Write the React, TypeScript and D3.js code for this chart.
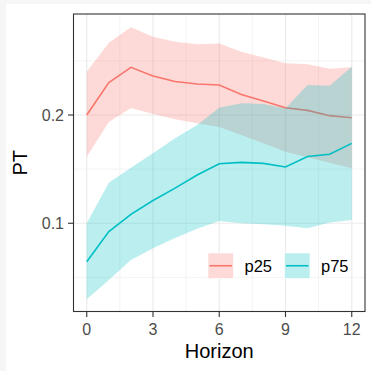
import React from "react";
import * as d3 from "d3";

const horizon = [0, 1, 2, 3, 4, 5, 6, 7, 8, 9, 10, 11, 12];
const p25Mid = [0.2, 0.23, 0.244, 0.236, 0.231, 0.2286, 0.2277, 0.219, 0.213, 0.2067, 0.2043, 0.1994, 0.1975];
const p25Lo = [0.1615, 0.1935, 0.2065, 0.201, 0.196, 0.1925, 0.189, 0.1815, 0.1738, 0.1661, 0.161, 0.156, 0.1508];
const p25Hi = [0.24, 0.2668, 0.281, 0.2723, 0.2677, 0.2653, 0.266, 0.2585, 0.2532, 0.2477, 0.247, 0.2428, 0.244];
const p75Mid = [0.0645, 0.0923, 0.1083, 0.121, 0.1325, 0.1446, 0.155, 0.1562, 0.1553, 0.152, 0.1617, 0.1638, 0.1738];
const p75Lo = [0.0298, 0.0477, 0.066, 0.0769, 0.0865, 0.095, 0.102, 0.1, 0.099, 0.0978, 0.0954, 0.1006, 0.103];
const p75Hi = [0.1, 0.1375, 0.1513, 0.1646, 0.1785, 0.1908, 0.2067, 0.2108, 0.2102, 0.2062, 0.2277, 0.2271, 0.2446];

const xTicks = [0, 3, 6, 9, 12];
const xMinor = [1.5, 4.5, 7.5, 10.5];
const yTicks = [0.1, 0.2];
const yTickLabels = ["0.1", "0.2"];
const yMinor = [0.05, 0.15, 0.25];

const seriesNames = ["p25", "p75"];
const colors = ["#F8766D", "#00BFC4"];

export default function App() {
  const W = 371, H = 371;
  const left = 73.5, right = 365, top = 14, bottom = 311.5;
  const x = d3.scaleLinear().domain([-0.6, 12.6]).range([left, right]);
  const y = d3.scaleLinear().domain([0.0185, 0.2933]).range([bottom, top]);

  const series = [
    { mid: p25Mid, lo: p25Lo, hi: p25Hi },
    { mid: p75Mid, lo: p75Lo, hi: p75Hi },
  ];
  const area = (lo: number[], hi: number[]) =>
    d3.area<number>().x((d) => x(d)).y0((_, i) => y(lo[i])).y1((_, i) => y(hi[i]))(horizon) || "";
  const line = (mid: number[]) =>
    d3.line<number>().x((d) => x(d)).y((_, i) => y(mid[i]))(horizon) || "";

  const font = "'Liberation Sans', Arial, sans-serif";
  const alpha = 0.27;

  const legendKeys = [
    { kx: 207.5, tx: 244.5 },
    { kx: 284, tx: 321 },
  ];
  const ky = 252.5, ks = 26.5;

  return (
    <svg width={W} height={H} style={{ position: "absolute", left: 0, top: 0, display: "block" }} fontFamily={font}>
      <rect x={0} y={0} width={W} height={H} fill="#f6f6f6" />
      <rect x={6} y={4} width={W - 6} height={H - 4} fill="#ffffff" />
      <clipPath id="panel">
        <rect x={left} y={top} width={right - left} height={bottom - top} />
      </clipPath>
      <g>
        {xMinor.map((v) => (
          <line key={"xm" + v} x1={x(v)} x2={x(v)} y1={top} y2={bottom} stroke="#ebebeb" strokeWidth={0.6} />
        ))}
        {yMinor.map((v) => (
          <line key={"ym" + v} x1={left} x2={right} y1={y(v)} y2={y(v)} stroke="#ebebeb" strokeWidth={0.6} />
        ))}
        {xTicks.map((v) => (
          <line key={"xM" + v} x1={x(v)} x2={x(v)} y1={top} y2={bottom} stroke="#ebebeb" strokeWidth={1.2} />
        ))}
        {yTicks.map((v) => (
          <line key={"yM" + v} x1={left} x2={right} y1={y(v)} y2={y(v)} stroke="#ebebeb" strokeWidth={1.2} />
        ))}
      </g>
      <g clipPath="url(#panel)">
        {series.map((s, i) => (
          <g key={i}>
            <path d={area(s.lo, s.hi)} fill={colors[i]} fillOpacity={alpha} />
            <path d={line(s.mid)} fill="none" stroke={colors[i]} strokeWidth={1.6} />
          </g>
        ))}
      </g>
      {/* legend */}
      {legendKeys.map((k, i) => (
        <g key={"lg" + i}>
          <rect x={k.kx} y={ky} width={ks} height={ks} fill="#ffffff" />
          <rect x={k.kx + 0.8} y={ky + 0.8} width={ks - 1.6} height={ks - 1.6} fill={colors[i]} fillOpacity={alpha} />
          <line x1={k.kx + 2} x2={k.kx + ks - 2} y1={ky + ks / 2} y2={ky + ks / 2} stroke={colors[i]} strokeWidth={1.6} />
          <text x={k.tx} y={ky + ks / 2 + 5.8} fontSize={16.5} fill="#000">{seriesNames[i]}</text>
        </g>
      ))}
      <rect x={left} y={top} width={right - left} height={bottom - top} fill="none" stroke="#333333" strokeWidth={1.1} />
      {xTicks.map((v) => (
        <g key={"xt" + v}>
          <line x1={x(v)} x2={x(v)} y1={bottom} y2={bottom + 5.5} stroke="#333333" strokeWidth={1.1} />
          <text x={x(v)} y={335} textAnchor="middle" fontSize={16} fill="#4d4d4d">{v}</text>
        </g>
      ))}
      {yTicks.map((v, i) => (
        <g key={"yt" + v}>
          <line x1={left - 5.5} x2={left} y1={y(v)} y2={y(v)} stroke="#333333" strokeWidth={1.1} />
          <text x={64} y={y(v) + 5.8} textAnchor="end" fontSize={16} fill="#4d4d4d">{yTickLabels[i]}</text>
        </g>
      ))}
      <text x={(left + right) / 2} y={358.3} textAnchor="middle" fontSize={20} fill="#000">Horizon</text>
      <text transform={`translate(27,${(top + bottom) / 2}) rotate(-90)`} textAnchor="middle" fontSize={20} fill="#000">PT</text>
    </svg>
  );
}
